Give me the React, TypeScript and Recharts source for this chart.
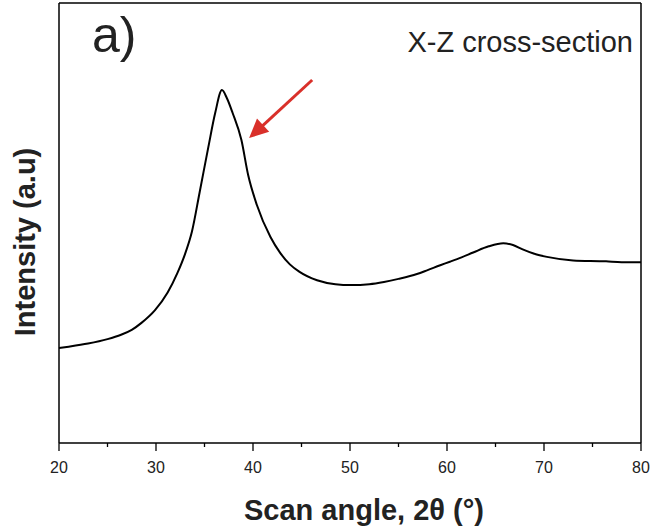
import React from 'react';
import { LineChart, Line, XAxis, YAxis, ReferenceLine } from 'recharts';

// scan angle (2θ, degrees)
const angles = [20, 21, 23, 25, 26.4, 27.5, 28.5, 29.9, 31.2, 32.2, 33, 33.7, 34.5, 35.4, 36.1, 36.8, 37.3, 37.9, 38.8, 39.5, 40.4, 41.8, 42.8, 43.8, 44.8, 46.6, 48.5, 50.1, 52, 53.5, 55, 56.9, 58, 59.3, 60.3, 61.5, 62.7, 64.3, 65.8, 66.8, 67.8, 69, 70.3, 73, 76.4, 78, 80];
// intensity (arbitrary units)
const intensity = [21.6, 21.9, 22.6, 23.6, 24.6, 25.7, 27.3, 30.2, 34.2, 38.6, 43.0, 48.0, 57.0, 67.3, 75.0, 80.2, 78.4, 75.0, 68.9, 60.9, 54.1, 46.8, 43.2, 40.6, 38.9, 37.0, 36.1, 35.9, 36.1, 36.6, 37.3, 38.4, 39.3, 40.4, 41.2, 42.2, 43.3, 44.7, 45.4, 45.0, 44.0, 43.0, 42.3, 41.5, 41.3, 41.1, 41.1];

const xTicks = [20, 25, 30, 35, 40, 45, 50, 55, 60, 65, 70, 75, 80];
const majorTicks = [20, 30, 40, 50, 60, 70, 80];

// arrow pointing at the shoulder of the main peak
const arrowTail = { x: 46.1, y: 82.5 };
const arrowHead = { x: 39.6, y: 69.3 };

const data = angles.map((a, i) => ({ angle: a, value: intensity[i] }));

const XTick = (props: any) => {
  const { x, y, payload } = props;
  const major = majorTicks.includes(payload.value);
  return (
    <g>
      <line x1={x} y1={y} x2={x} y2={y + (major ? 8 : 4)} stroke="#000" strokeWidth={1.3} />
      {major && (
        <text x={x} y={y + 30} textAnchor="middle" fontSize={16} fill="#222" fontFamily="Liberation Sans, Arial, sans-serif">
          {payload.value}
        </text>
      )}
    </g>
  );
};

const Arrow = (props: any) => {
  const { x1, y1, x2, y2 } = props;
  const dx = x2 - x1;
  const dy = y2 - y1;
  const len = Math.sqrt(dx * dx + dy * dy);
  const ux = dx / len;
  const uy = dy / len;
  const hl = 19;
  const hw = 9;
  const bx = x2 - ux * hl;
  const by = y2 - uy * hl;
  return (
    <g>
      <line x1={x1} y1={y1} x2={bx + ux * 2} y2={by + uy * 2} stroke="#d9302a" strokeWidth={3} />
      <polygon
        points={`${x2},${y2} ${bx - uy * hw},${by + ux * hw} ${bx + uy * hw},${by - ux * hw}`}
        fill="#d9302a"
      />
    </g>
  );
};

const App = () => {
  return (
    <div style={{ position: 'absolute', left: 0, top: 0, width: 652, height: 530, background: '#fff' }}>
      <LineChart width={652} height={530} data={data} margin={{ top: 3, right: 11, left: 0, bottom: 0 }}>
        <XAxis
          dataKey="angle"
          type="number"
          domain={[20, 80]}
          ticks={xTicks}
          height={87}
          tickSize={0}
          tickMargin={0}
          tickLine={false}
          tick={<XTick />}
          axisLine={{ stroke: '#000', strokeWidth: 1.5 }}
          interval={0}
        />
        <YAxis
          type="number"
          domain={[0, 100]}
          width={59}
          tick={false}
          tickLine={false}
          axisLine={{ stroke: '#000', strokeWidth: 1.5 }}
        />
        {/* frame: top and right edges */}
        <ReferenceLine y={100} stroke="#000" strokeWidth={1.5} ifOverflow="visible" />
        <ReferenceLine x={80} stroke="#000" strokeWidth={1.5} ifOverflow="visible" />
        <Line
          type="monotone"
          dataKey="value"
          stroke="#000"
          strokeWidth={2}
          dot={false}
          isAnimationActive={false}
        />
        <ReferenceLine
          segment={[arrowTail, arrowHead]}
          shape={<Arrow />}
          ifOverflow="visible"
        />
        <text x={92} y={52} fontSize={50} fill="#222" fontFamily="Liberation Sans, Arial, sans-serif">
          a)
        </text>
        <text x={633} y={52} textAnchor="end" fontSize={29} fill="#222" fontFamily="Liberation Sans, Arial, sans-serif">
          X-Z cross-section
        </text>
        <text x={364} y={520} textAnchor="middle" fontSize={29} fontWeight="bold" fill="#222" fontFamily="Liberation Sans, Arial, sans-serif">
          Scan angle, 2θ (°)
        </text>
        <text
          x={35}
          y={242}
          textAnchor="middle"
          fontSize={29}
          fontWeight="bold"
          fill="#222"
          fontFamily="Liberation Sans, Arial, sans-serif"
          transform="rotate(-90, 35, 242)"
        >
          Intensity (a.u)
        </text>
      </LineChart>
    </div>
  );
};

export default App;
